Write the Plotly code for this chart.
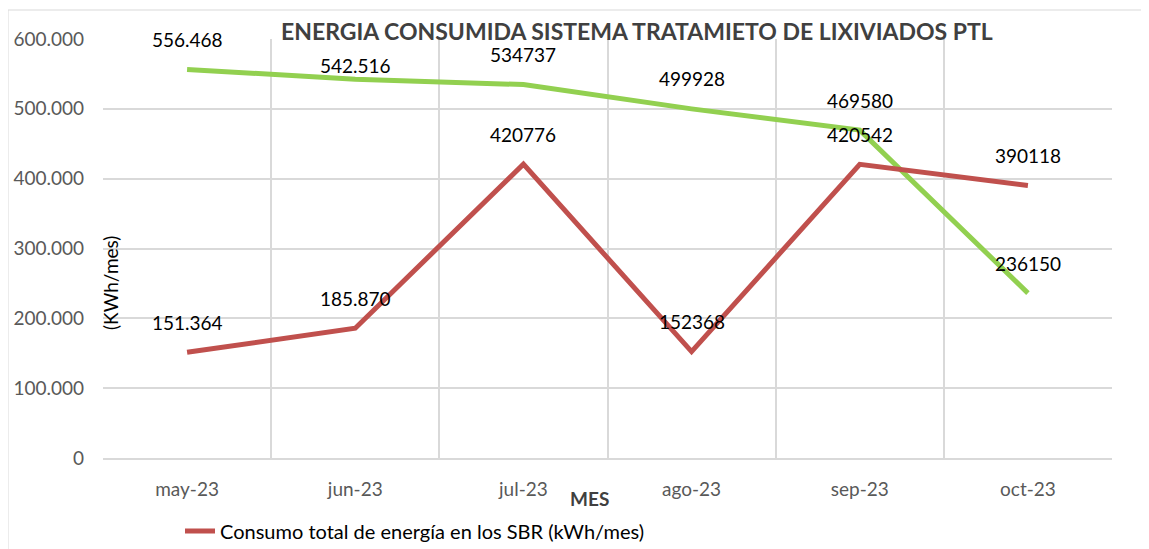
import plotly.graph_objects as go

# Datos
meses = ["may-23", "jun-23", "jul-23", "ago-23", "sep-23", "oct-23"]
consumo_sbr = [151364, 185870, 420776, 152368, 420542, 390118]
etiquetas_sbr = ["151.364", "185.870", "420776", "152368", "420542", "390118"]
consumo_total = [556468, 542516, 534737, 499928, 469580, 236150]
etiquetas_total = ["556.468", "542.516", "534737", "499928", "469580", "236150"]
y_ticks = [0, 100000, 200000, 300000, 400000, 500000, 600000]

ROJO = "#C0504D"
VERDE = "#92D050"
GRIS_GRID = "#D9D9D9"
FUENTE = "Lato, 'Open Sans', sans-serif"

# geometría (px) del área de trazado; la página añade 8 px de margen
OFF = 8
W, H = 1149, 549
pw, ph = 1009, 419
L, T = 103 - OFF, 39 - OFF
R, B = W - L - pw, H - T - ph


def px_x(px):
    return (px - OFF - L) / pw


def px_y(py):
    return (T + ph - (py - OFF)) / ph


fig = go.Figure()

fig.add_trace(go.Scatter(
    x=meses, y=consumo_total, mode="lines",
    line=dict(color=VERDE, width=5),
    name="Consumo total de energía (kWh/mes)",
    showlegend=False, hoverinfo="x+y"
))
fig.add_trace(go.Scatter(
    x=meses, y=consumo_sbr, mode="lines",
    line=dict(color=ROJO, width=5),
    name="Consumo total de energía en los SBR (kWh/mes)",
    hoverinfo="x+y"
))

# Etiquetas de datos (la de jun-23 verde va más baja para no tapar el título)
for serie, etiquetas in ((consumo_total, etiquetas_total), (consumo_sbr, etiquetas_sbr)):
    for m, v, t in zip(meses, serie, etiquetas):
        desplaz = 14 if t == "542.516" else 30
        fig.add_annotation(x=m, y=v, text=t, showarrow=False, yshift=desplaz,
                           font=dict(family=FUENTE, size=19, color="black"))

# Título del eje Y dentro del área
fig.add_annotation(xref="paper", yref="paper", x=px_x(110), y=px_y(283),
                   xanchor="center", yanchor="middle",
                   text="(KWh/mes)", textangle=-90, showarrow=False,
                   font=dict(family=FUENTE, size=19, color="black"))
# Título del eje X
fig.add_annotation(xref="paper", yref="paper", x=px_x(589), y=px_y(498),
                   xanchor="center", yanchor="middle",
                   text="<b>MES</b>", showarrow=False,
                   font=dict(family=FUENTE, size=19, color="#404040"))
# Título
fig.add_annotation(xref="paper", yref="paper", x=px_x(637), y=px_y(31),
                   xanchor="center", yanchor="middle",
                   text="<b>ENERGIA CONSUMIDA SISTEMA TRATAMIETO DE LIXIVIADOS PTL</b>",
                   showarrow=False,
                   font=dict(family=FUENTE, size=23, color="#404040"))

# Borde del gráfico
fig.add_shape(type="rect", xref="paper", yref="paper",
              x0=px_x(8), x1=px_x(1148), y0=px_y(580), y1=px_y(10),
              line=dict(color=GRIS_GRID, width=1), layer="below")

fig.update_layout(
    width=W, height=H,
    margin=dict(l=L, r=R, t=T, b=B, autoexpand=False),
    plot_bgcolor="white", paper_bgcolor="white",
    separators=",.",
    font=dict(family=FUENTE, size=18, color="#595959"),
    legend=dict(orientation="h", x=px_x(180), y=px_y(531),
                xanchor="left", yanchor="middle",
                font=dict(family=FUENTE, size=20, color="black"),
                bgcolor="rgba(0,0,0,0)"),
    xaxis=dict(
        range=[-0.5, 5.5], tickson="boundaries", showgrid=True,
        gridcolor=GRIS_GRID, gridwidth=1.5, showline=True, linecolor=GRIS_GRID,
        linewidth=1.5, ticks="", ticklabelstandoff=13,
        tickfont=dict(family=FUENTE, size=19, color="#595959"),
        zeroline=False, fixedrange=True, automargin=False
    ),
    yaxis=dict(
        range=[0, 600000], tickvals=y_ticks, tickformat=",d",
        showgrid=True, gridcolor=GRIS_GRID, gridwidth=1.5, zeroline=False,
        ticks="", ticklabelstandoff=18,
        tickfont=dict(family=FUENTE, size=19, color="#595959"),
        fixedrange=True, automargin=False
    ),
)

fig.write_html("out.html")
